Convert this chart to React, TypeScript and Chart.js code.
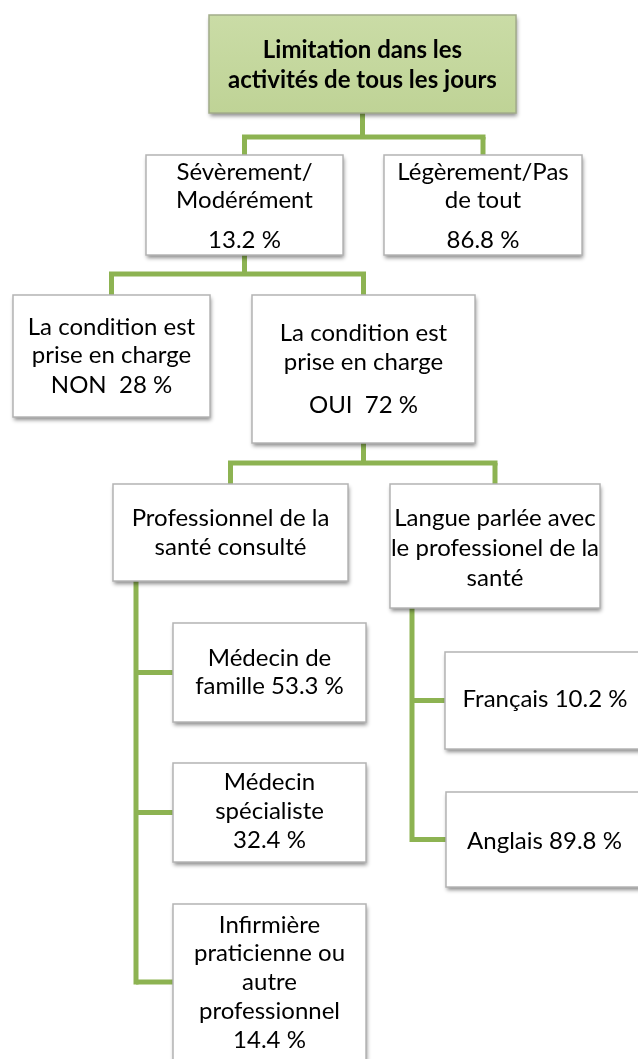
import React, { useEffect, useRef } from "react";
import { Chart, registerables } from "chart.js";

Chart.register(...registerables);

// ---------- data ----------
const nodeLines: string[][] = [
  ["Limitation dans les", "activités de tous les jours"],
  ["Sévèrement/", "Modérément", "{v}"],
  ["Légèrement/Pas", "de tout", "{v}"],
  ["La condition est", "prise en charge", "NON  {v}"],
  ["La condition est", "prise en charge", "OUI  {v}"],
  ["Professionnel de la", "santé consulté"],
  ["Langue parlée avec", "le professionel de la", "santé"],
  ["Médecin de", "famille {v}"],
  ["Médecin", "spécialiste", "{v}"],
  ["Infirmière", "praticienne ou", "autre", "professionnel", "{v}"],
  ["Français {v}"],
  ["Anglais {v}"],
];
const nodeValues: (number | null)[] = [null, 13.2, 86.8, 28, 72, null, null, 53.3, 32.4, 14.4, 10.2, 89.8];
const nodeParents: number[] = [-1, 0, 0, 1, 1, 4, 4, 5, 5, 5, 6, 6];

// ---------- layout (diagram units = px of the 638x1059 page) ----------
const boxLayout: number[][] = [
  [209, 15, 516, 113],
  [146, 155, 343, 255],
  [384, 155, 582, 255],
  [13, 295, 210, 417],
  [252, 295, 475, 443],
  [113, 484, 348, 581],
  [390, 484, 600, 608],
  [173, 623, 366, 722],
  [173, 763, 366, 862],
  [173, 904, 366, 1060],
  [445, 652, 645, 749],
  [446, 792, 643, 887],
];
const lineYs: number[][] = [
  [50, 80],
  [172, 200, 240],
  [172, 200, 240],
  [327, 355, 385],
  [333, 362, 405],
  [518, 547],
  [518, 548, 578],
  [658, 686],
  [782, 811, 840],
  [925, 953, 982, 1011, 1040],
  [699],
  [841],
];
// connector style per parent: bus (horizontal) at y, or spine (vertical) at x
const busY: Record<number, number> = { 0: 137, 1: 274, 4: 463 };
const spineX: Record<number, number> = { 5: 136, 6: 412 };

const GREEN = "#8db352";
const FONT = "Lato, 'Open Sans', sans-serif";

function fmt(v: number | null) {
  if (v === null) return "";
  return `${v} %`;
}

const treePlugin = {
  id: "treePlugin",
  afterDatasetsDraw(chart: any) {
    const { ctx, scales } = chart;
    const X = (v: number) => scales.x.getPixelForValue(v);
    const Y = (v: number) => scales.y.getPixelForValue(v);
    ctx.save();

    // connectors
    ctx.strokeStyle = GREEN;
    ctx.lineWidth = 5;
    ctx.lineCap = "butt";
    ctx.lineJoin = "miter";
    const parents = Array.from(new Set(nodeParents.filter((p) => p >= 0)));
    parents.forEach((p) => {
      const children = nodeParents.map((q, i) => (q === p ? i : -1)).filter((i) => i >= 0);
      const pb = boxLayout[p];
      const pcx = (pb[0] + pb[2]) / 2;
      if (busY[p] !== undefined) {
        const by = busY[p];
        ctx.beginPath();
        ctx.moveTo(X(pcx), Y(pb[3]));
        ctx.lineTo(X(pcx), Y(by));
        ctx.stroke();
        const cxs = children.map((c) => (boxLayout[c][0] + boxLayout[c][2]) / 2);
        children.forEach((c, k) => {
          ctx.beginPath();
          ctx.moveTo(X(cxs[k]), Y(boxLayout[c][1]));
          ctx.lineTo(X(cxs[k]), Y(by));
          ctx.stroke();
        });
        ctx.beginPath();
        ctx.moveTo(X(Math.min(...cxs)) - 2.5, Y(by));
        ctx.lineTo(X(Math.max(...cxs)) + 2.5, Y(by));
        ctx.stroke();
      } else if (spineX[p] !== undefined) {
        const sx = spineX[p];
        const cys = children.map((c) => (boxLayout[c][1] + boxLayout[c][3]) / 2);
        ctx.beginPath();
        ctx.moveTo(X(sx), Y(pb[3]));
        ctx.lineTo(X(sx), Y(Math.max(...cys)) + 2.5);
        ctx.stroke();
        children.forEach((c, k) => {
          ctx.beginPath();
          ctx.moveTo(X(sx), Y(cys[k]));
          ctx.lineTo(X(boxLayout[c][0]), Y(cys[k]));
          ctx.stroke();
        });
      }
    });

    // boxes
    boxLayout.forEach((b, i) => {
      const x0 = X(b[0]), y0 = Y(b[1]), x1 = X(b[2]), y1 = Y(b[3]);
      ctx.save();
      ctx.shadowColor = "rgba(0,0,0,0.45)";
      ctx.shadowBlur = 4;
      ctx.shadowOffsetX = 1;
      ctx.shadowOffsetY = 3;
      if (i === 0) {
        const g = ctx.createLinearGradient(0, y0, 0, y1);
        g.addColorStop(0, "#cadca6");
        g.addColorStop(1, "#bfd396");
        ctx.fillStyle = g;
      } else {
        ctx.fillStyle = "#ffffff";
      }
      ctx.fillRect(x0, y0, x1 - x0, y1 - y0);
      ctx.restore();
      ctx.strokeStyle = i === 0 ? "#a3ad8a" : "#b4b4b4";
      ctx.lineWidth = 1.5;
      ctx.strokeRect(x0, y0, x1 - x0, y1 - y0);

      // text
      ctx.fillStyle = "#000000";
      ctx.textAlign = "center";
      ctx.textBaseline = "middle";
      ctx.font = i === 0 ? `bold 24px ${FONT}` : `24px ${FONT}`;
      const cx = (x0 + x1) / 2;
      nodeLines[i].forEach((ln, k) => {
        const t = ln.replace("{v}", fmt(nodeValues[i]));
        ctx.fillText(t, cx, Y(lineYs[i][k]));
      });
    });
    ctx.restore();
  },
};

export default function App() {
  const ref = useRef<HTMLCanvasElement | null>(null);
  useEffect(() => {
    document.body.style.margin = "0";
    if (!ref.current) return;
    const centers = boxLayout.map((b) => ({ x: (b[0] + b[2]) / 2, y: (b[1] + b[3]) / 2 }));
    const chart = new Chart(ref.current, {
      type: "scatter",
      data: {
        datasets: [
          {
            label: "nodes",
            data: centers,
            pointRadius: 0,
            pointHoverRadius: 0,
          },
        ],
      },
      options: {
        animation: false,
        responsive: false,
        layout: { padding: 0 },
        plugins: { legend: { display: false }, tooltip: { enabled: false } },
        scales: {
          x: { type: "linear", min: 0, max: 638, display: false },
          y: { type: "linear", min: 0, max: 1059, reverse: true, display: false },
        },
      },
      plugins: [treePlugin],
    });
    return () => chart.destroy();
  }, []);
  return (
    <div style={{ width: 638, height: 1059, background: "#ffffff" }}>
      <canvas ref={ref} width={638} height={1059} />
    </div>
  );
}
